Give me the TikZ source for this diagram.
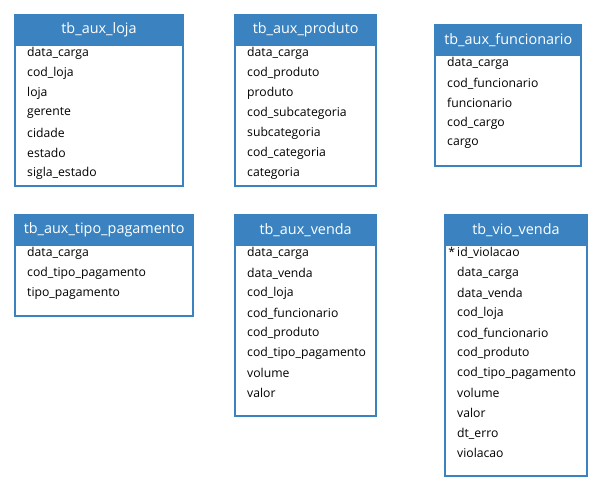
\documentclass[tikz,border=0pt]{standalone}
\usepackage{fontspec}
\setmainfont{Open Sans}
\definecolor{hdr}{RGB}{58,131,192}
\newcommand{\erdtable}[7]{%
  % #1 name, #2 left, #3 top (outer), #4 inner width, #5 inner height, #6 title, #7 rows
  \node[tblbox, minimum width=#4, minimum height=#5] (#1) at (#2+1,#3+1) {};
  \node[hdrbox, minimum width=#4] (#1h) at (#1.north west) {};
  \node[titletxt] (#1t) at (#1h.center) {#6};
  \foreach \r [count=\i] in {#7} {
    \node[rowtxt] (#1r\i) at ([xshift=12.7pt,yshift={-39pt-20pt*(\i-1)}]#1.north west) {\r};
  }
}
\begin{document}
\begin{tikzpicture}[x=1pt,y=-1pt,
  tblbox/.style={draw=hdr,line width=2pt,fill=white,rectangle,inner sep=0pt,anchor=north west},
  hdrbox/.style={draw=hdr,fill=hdr,line width=2pt,rectangle,inner sep=0pt,anchor=north west,minimum height=29.7pt},
  titletxt/.style={text=white,font=\fontsize{14.4}{16}\selectfont,inner sep=0pt},
  rowtxt/.style={text=black,font=\fontsize{12.2}{14}\selectfont,inner sep=0pt,anchor=west}]
\useasboundingbox[fill=white] (0,0) rectangle (600,490);
\erdtable{loja}{13.3}{13.3}{167.4}{170.7}{tb\_aux\_loja}{data\_carga,cod\_loja,loja,gerente,cidade,estado,sigla\_estado}
\erdtable{prod}{233.3}{13.3}{140.7}{170.7}{tb\_aux\_produto}{data\_carga,cod\_produto,produto,cod\_subcategoria,subcategoria,cod\_categoria,categoria}
\erdtable{func}{433.3}{23.3}{146}{140.7}{tb\_aux\_funcionario}{data\_carga,cod\_funcionario,funcionario,cod\_cargo,cargo}
\erdtable{tipo}{13.3}{213.3}{177.7}{100.7}{tb\_aux\_tipo\_pagamento}{data\_carga,cod\_tipo\_pagamento,tipo\_pagamento}
\erdtable{venda}{233.3}{213.3}{140.7}{200.7}{tb\_aux\_venda}{data\_carga,data\_venda,cod\_loja,cod\_funcionario,cod\_produto,cod\_tipo\_pagamento,volume,valor}
\erdtable{vio}{443.3}{213.3}{141.4}{260.7}{tb\_vio\_venda}{\llap{*\,}id\_violacao,data\_carga,data\_venda,cod\_loja,cod\_funcionario,cod\_produto,cod\_tipo\_pagamento,volume,valor,dt\_erro,violacao}
\end{tikzpicture}
\end{document}
